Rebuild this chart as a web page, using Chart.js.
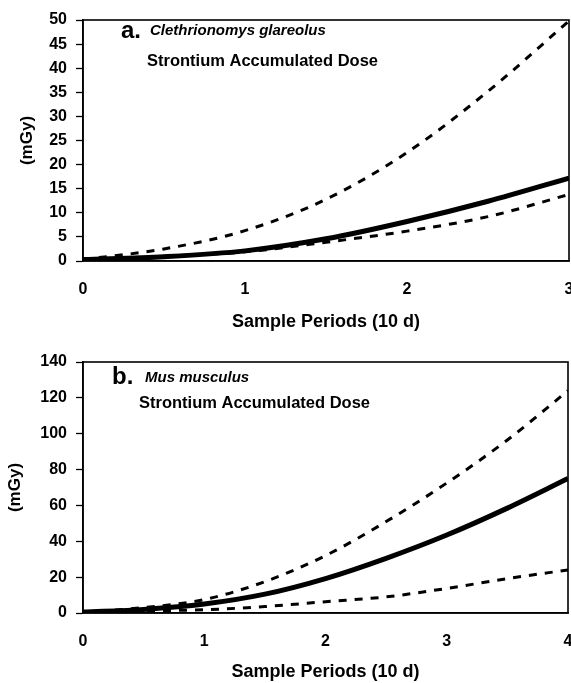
<!DOCTYPE html>
<html>
<head>
<meta charset="utf-8">
<script src="https://cdn.jsdelivr.net/npm/chart.js@4.4.0/dist/chart.umd.min.js"></script>
<style>
  html, body { margin: 0; padding: 0; background: #fff; overflow: hidden; width: 571px; height: 683px; }
  canvas { position: absolute; left: 0; }
  #chartA { top: 0; }
  #chartB { top: 340px; }
</style>
</head>
<body>
<canvas id="chartA" width="600" height="340"></canvas>
<canvas id="chartB" width="600" height="343"></canvas>
<script>
// a. Clethrionomys glareolus
const periodsA = [0, 0.5, 1, 1.5, 2, 2.5, 3];
const doseA = [0.3, 0.9, 2.1, 4.6, 8.2, 12.4, 17.2];
const upperA = [0.3, 2.5, 6.3, 12.8, 22.5, 35.2, 49.8];
const lowerA = [0.3, 1.0, 1.9, 3.9, 6.2, 9.2, 13.8];

// b. Mus musculus
const periodsB = [0, 0.5, 1, 1.5, 2, 2.5, 3, 3.5, 4];
const doseB = [0.5, 2.0, 5.0, 10.5, 19.2, 30.5, 43.5, 58.5, 75];
const upperB = [0.5, 3.0, 7.5, 17.5, 32, 51, 72.5, 96.5, 124];
const lowerB = [0.5, 1.2, 1.8, 3.6, 6.3, 9.0, 13.7, 19.2, 24];

Chart.defaults.font.family = '"Liberation Sans", Arial, sans-serif';
Chart.defaults.font.weight = 'bold';
Chart.defaults.color = '#000';

function pairs(xs, ys) {
    return xs.map(function(x, i) { return { x: x, y: ys[i] }; });
}

// frame round the plot area
const boxPlugin = {
    id: 'box',
    afterDatasetsDraw(chart) {
        const a = chart.chartArea, ctx = chart.ctx;
        ctx.save();
        ctx.strokeStyle = '#000';
        ctx.lineWidth = 1.6;
        ctx.strokeRect(a.left, a.top, a.right - a.left, a.bottom - a.top);
        ctx.restore();
    }
};

// panel labels inside the plot
const notesPlugin = {
    id: 'notes',
    afterDraw(chart, args, opts) {
        const ctx = chart.ctx;
        ctx.save();
        ctx.fillStyle = '#000';
        ctx.textBaseline = 'middle';
        ctx.textAlign = 'left';
        opts.items.forEach(function(it) {
            ctx.font = it.font + ' "Liberation Sans", Arial, sans-serif';
            ctx.fillText(it.text, it.x, it.y);
        });
        ctx.restore();
    }
};

function makeChart(id, xs, mean, upper, lower, cfg) {
    const dashed = { borderColor: '#000', borderWidth: 3, borderDash: [8, 8], pointRadius: 0,
                     fill: false, cubicInterpolationMode: 'monotone' };
    return new Chart(document.getElementById(id), {
        type: 'line',
        data: {
            datasets: [
                Object.assign({ label: 'upper', data: pairs(xs, upper) }, dashed),
                Object.assign({ label: 'lower', data: pairs(xs, lower) }, dashed),
                { label: 'dose', data: pairs(xs, mean), borderColor: '#000', borderWidth: 5,
                  pointRadius: 0, fill: false, cubicInterpolationMode: 'monotone' }
            ]
        },
        options: {
            responsive: false,
            animation: false,
            layout: { padding: { top: cfg.padTop, right: cfg.padRight, left: 0, bottom: 0 } },
            plugins: {
                legend: { display: false },
                tooltip: { enabled: false },
                notes: { items: cfg.notes }
            },
            scales: {
                x: {
                    type: 'linear', min: 0, max: xs[xs.length - 1],
                    ticks: { stepSize: 1, padding: cfg.xPad, font: { size: 16, weight: 'bold' }, color: '#000' },
                    grid: { drawOnChartArea: false, drawTicks: false },
                    border: { color: '#000', width: 1.6 },
                    title: { display: true, text: 'Sample Periods (10 d)', font: { size: 18, weight: 'bold' },
                             color: '#000', padding: { top: 0, bottom: cfg.xTitlePad } },
                    afterFit(s) { s.height = cfg.xHeight; }
                },
                y: {
                    min: 0, max: cfg.yMax,
                    ticks: { stepSize: cfg.yStep, padding: 9, font: { size: 16, weight: 'bold' }, color: '#000' },
                    grid: { drawOnChartArea: false, drawTicks: true, tickLength: 7, tickColor: '#000', tickWidth: 1.3 },
                    border: { color: '#000', width: 1.6 },
                    title: { display: true, text: '(mGy)', font: { size: 17, weight: 'bold' },
                             color: '#000', padding: { top: cfg.yTitlePad, bottom: 0 } },
                    afterFit(s) { s.width = 83; }
                }
            }
        },
        plugins: [boxPlugin, notesPlugin]
    });
}

makeChart('chartA', periodsA, doseA, upperA, lowerA, {
    padTop: 20, padRight: 31, xHeight: 79, xPad: 19, xTitlePad: 7,
    yMax: 50, yStep: 5, yTitlePad: 17,
    notes: [
        { text: 'a.', x: 121, y: 31, font: 'bold 24px' },
        { text: 'Clethrionomys glareolus', x: 150, y: 31, font: 'italic bold 15px' },
        { text: 'Strontium Accumulated Dose', x: 147, y: 61, font: 'bold 16.5px' }
    ]
});

makeChart('chartB', periodsB, doseB, upperB, lowerB, {
    padTop: 22, padRight: 32, xHeight: 70, xPad: 19, xTitlePad: 0,
    yMax: 140, yStep: 20, yTitlePad: 5,
    notes: [
        { text: 'b.', x: 112, y: 37, font: 'bold 24px' },
        { text: 'Mus musculus', x: 145, y: 38, font: 'italic bold 15px' },
        { text: 'Strontium Accumulated Dose', x: 139, y: 63, font: 'bold 16.5px' }
    ]
});
</script>
</body>
</html>
